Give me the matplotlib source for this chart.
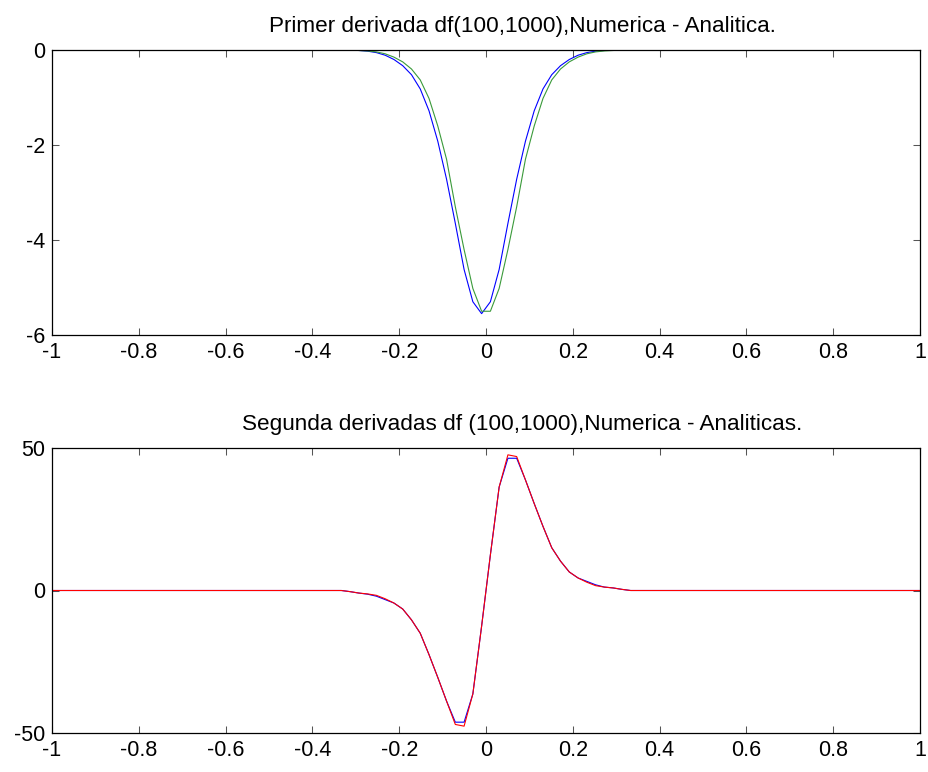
import matplotlib
matplotlib.use("Agg")
import matplotlib.pyplot as plt

plt.rcParams['font.family'] = ['Liberation Sans', 'DejaVu Sans']
plt.rcParams['axes.unicode_minus'] = False

# sample positions (nonzero region) plus end points
x_vals = [-1.0, -0.3333, -0.3131, -0.2929, -0.2727, -0.2525, -0.2323, -0.2121, -0.1919,
          -0.1717, -0.1515, -0.1313, -0.1111, -0.0909, -0.0707, -0.0505, -0.0303,
          -0.0101, 0.0101, 0.0303, 0.0505, 0.0707, 0.0909, 0.1111, 0.1313, 0.1515,
          0.1717, 0.1919, 0.2121, 0.2323, 0.2525, 0.2727, 0.2929, 0.3131, 0.3333, 1.0]

# first derivative: numeric (blue) and analytic (green)
d1_numeric = [0, 0, 0, -0.01, -0.025, -0.055, -0.11, -0.20, -0.33, -0.52, -0.82, -1.28,
              -1.92, -2.72, -3.65, -4.62, -5.30, -5.55, -5.30, -4.62, -3.65, -2.72, -1.92,
              -1.28, -0.82, -0.52, -0.33, -0.20, -0.11, -0.055, -0.025, -0.01, 0, 0, 0, 0]
d1_analytic = [0, 0, 0, -0.01, -0.02, -0.04, -0.08, -0.15, -0.25, -0.40, -0.63, -1.02,
               -1.60, -2.30, -3.30, -4.20, -5.02, -5.50, -5.50, -5.02, -4.20, -3.30, -2.30,
               -1.60, -1.02, -0.63, -0.40, -0.25, -0.15, -0.08, -0.04, -0.02, -0.01, 0, 0, 0]

# second derivative: numeric (blue) and analytic (red)
d2_numeric = [0, 0, -0.4, -0.9, -1.3, -2.0, -3.2, -4.4, -6.5, -10.3, -15.0, -22.5, -30.5,
              -38.8, -46.2, -46.2, -36.3, -12.5, 12.5, 36.3, 46.4, 46.4, 38.8, 30.5, 22.5,
              15.0, 10.3, 6.5, 4.4, 3.2, 2.0, 1.2, 0.9, 0.4, 0, 0]
d2_analytic = [0, 0, -0.4, -0.9, -1.2, -1.7, -2.9, -4.4, -6.5, -10.3, -15.0, -22.5, -30.5,
               -38.8, -47.0, -47.6, -36.3, -12.5, 12.5, 36.3, 47.6, 47.0, 38.8, 30.5, 22.5,
               15.0, 10.3, 6.5, 4.4, 2.9, 1.7, 1.2, 0.9, 0.4, 0, 0]

x_ticks = [-1, -0.8, -0.6, -0.4, -0.2, 0, 0.2, 0.4, 0.6, 0.8, 1]
x_ticklabels = ['-1', '-0.8', '-0.6', '-0.4', '-0.2', '0', '0.2', '0.4', '0.6', '0.8', '1']
y1_ticks = [-6, -4, -2, 0]
y1_ticklabels = ['-6', '-4', '-2', '0']
y2_ticks = [-50, 0, 50]
y2_ticklabels = ['-50', '0', '50']

title1 = 'Primer derivada df(100,1000),Numerica - Analitica.'
title2 = 'Segunda derivadas df (100,1000),Numerica - Analiticas.'

fig = plt.figure(figsize=(9.29, 7.72), dpi=100)
ax1 = fig.add_axes([52/929, 437/772, 868/929, 285/772])
ax2 = fig.add_axes([52/929, 39/772, 868/929, 285/772])

FS = 15.5
TFS = 16.2
lw = 0.8
title_x = (522 - 52) / 868

ax1.plot(x_vals, d1_numeric, color=(0, 0, 1), lw=lw)
ax1.plot(x_vals, d1_analytic, color='#3a9a3a', lw=lw)
ax1.set_ylim(-6, 0)
ax1.set_yticks(y1_ticks)
ax1.set_yticklabels(y1_ticklabels)
ax1.set_title(title1, fontsize=TFS, pad=13, x=title_x)

ax2.plot(x_vals, d2_numeric, color=(0, 0, 1), lw=lw)
ax2.plot(x_vals, d2_analytic, color=(1, 0, 0), lw=lw)
ax2.set_ylim(-50, 50)
ax2.set_yticks(y2_ticks)
ax2.set_yticklabels(y2_ticklabels)
ax2.set_title(title2, fontsize=TFS, pad=13, x=title_x)

for ax in (ax1, ax2):
    ax.set_xlim(-1, 1)
    ax.set_xticks(x_ticks)
    ax.set_xticklabels(x_ticklabels)
    ax.tick_params(direction='in', top=True, right=True, length=5, width=0.75,
                   labelsize=FS, pad=5, color='#555555')
    for s in ax.spines.values():
        s.set_linewidth(0.9)
        s.set_color('black')

fig.savefig('out.png', dpi=100)
